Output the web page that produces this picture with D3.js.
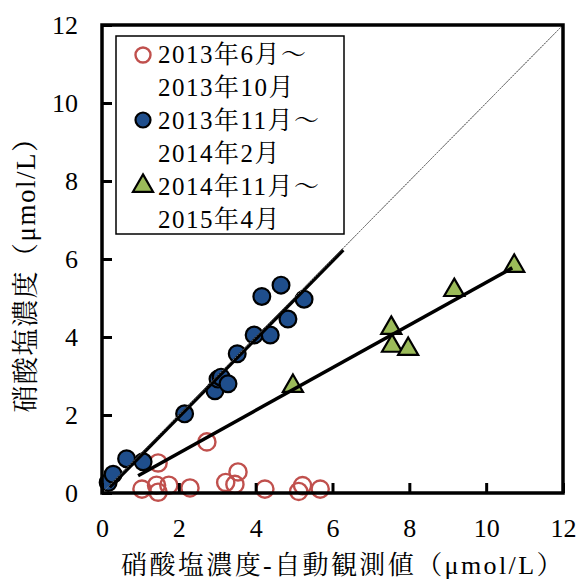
<!DOCTYPE html>
<html>
<head>
<meta charset="utf-8">
<script src="https://cdn.jsdelivr.net/npm/d3@7"></script>
<style>
body { margin: 0; background: #fff; }
</style>
</head>
<body>
<div id="chart"></div>
<script>
var width = 581,
    height = 583;
var margin = {top: 25, right: 18, bottom: 90, left: 102};
var latinFont = "'Liberation Serif'";
var cjkFont = "'Noto Serif CJK JP'";

// 2013年6月～2013年10月 (open red circles)
var redX = [1.04, 1.46, 1.46, 1.42, 1.74, 2.29, 2.73, 3.22, 3.46, 3.54, 4.24, 5.12, 5.22, 5.68];
var redY = [0.10, 0.77, 0.02, 0.20, 0.20, 0.13, 1.31, 0.27, 0.22, 0.54, 0.10, 0.04, 0.19, 0.10];

// 2013年11月～2014年2月 (blue circles)
var blueX = [0.16, 0.29, 0.64, 1.07, 2.15, 2.94, 3.02, 3.10, 3.28, 3.52, 3.96, 4.38, 4.16, 4.66, 4.84, 5.26];
var blueY = [0.27, 0.48, 0.88, 0.80, 2.03, 2.62, 2.92, 2.97, 2.80, 3.57, 4.05, 4.05, 5.04, 5.33, 4.46, 4.97];

// 2014年11月～2015年4月 (green triangles)
var greenX = [4.97, 7.53, 7.55, 7.97, 9.17, 10.73];
var greenY = [2.74, 4.23, 3.77, 3.69, 5.20, 5.82];

// fitted lines: [slope, intercept, xStart, xEnd]
var blueFit = [1.0, -0.05, 0.2, 6.28];
var greenFit = [0.547, -0.07, 0.94, 10.68];

var ticks = [0, 2, 4, 6, 8, 10, 12];
var legendLabels = ["2013年6月～", "2013年10月", "2013年11月～", "2014年2月", "2014年11月～", "2015年4月"];
var xTitle = "硝酸塩濃度-自動観測値（μmol/L）";
var yTitle = "硝酸塩濃度（μmol/L）";

// split text into latin / CJK runs, each with its own font
var cjkRe = /[\u3000-\u9fff\uff00-\uffef]/;
function richText(sel, str) {
    str.match(/[\u3000-\u9fff\uff00-\uffef]+|[^\u3000-\u9fff\uff00-\uffef]+/g).forEach(function (r) {
        sel.append("tspan")
            .style("font-family", cjkRe.test(r) ? cjkFont : latinFont)
            .text(r);
    });
}

var svg = d3.select("#chart")
    .append("svg")
    .attr("width", width)
    .attr("height", height);

var x = d3.scaleLinear().domain([0, 12]).range([margin.left, width - margin.right]);
var y = d3.scaleLinear().domain([0, 12]).range([height - margin.bottom, margin.top]);

// 1:1 line
svg.append("line")
    .attr("x1", x(0)).attr("y1", y(0))
    .attr("x2", x(12)).attr("y2", y(12))
    .style("stroke", "#444")
    .style("stroke-width", 1)
    .style("stroke-dasharray", "2,1");

// red open circles
svg.append("g")
    .selectAll("circle")
    .data(redX)
    .enter()
    .append("circle")
    .attr("cx", function (d) { return x(d); })
    .attr("cy", function (d, i) { return y(redY[i]); })
    .attr("r", 8.6)
    .style("fill", "none")
    .style("stroke", "#C0504D")
    .style("stroke-width", 2.4);

// blue circles
svg.append("g")
    .selectAll("circle")
    .data(blueX)
    .enter()
    .append("circle")
    .attr("cx", function (d) { return x(d); })
    .attr("cy", function (d, i) { return y(blueY[i]); })
    .attr("r", 8.4)
    .style("fill", "#1F4E8C")
    .style("stroke", "#000")
    .style("stroke-width", 2.2);

// green triangles
var tri = d3.symbol().type(d3.symbolTriangle).size(175);
svg.append("g")
    .selectAll("path")
    .data(greenX)
    .enter()
    .append("path")
    .attr("d", tri)
    .attr("transform", function (d, i) { return "translate(" + x(d) + "," + y(greenY[i]) + ")"; })
    .style("fill", "#9BBB59")
    .style("stroke", "#000")
    .style("stroke-width", 2.2);

// fit lines
[blueFit, greenFit].forEach(function (f) {
    svg.append("line")
        .attr("x1", x(f[2])).attr("y1", y(f[0] * f[2] + f[1]))
        .attr("x2", x(f[3])).attr("y2", y(f[0] * f[3] + f[1]))
        .style("stroke", "#000")
        .style("stroke-width", 3.5);
});
// 1:1 line drawn again thinly over blue fit
svg.append("line")
    .attr("x1", x(0)).attr("y1", y(0))
    .attr("x2", x(12)).attr("y2", y(12))
    .style("stroke", "#888")
    .style("stroke-width", 0.8)
    .style("stroke-dasharray", "2,1");

// axes
var xAxis = d3.axisBottom(x).tickValues(ticks).tickSizeInner(-10).tickSizeOuter(0);
var yAxis = d3.axisLeft(y).tickValues(ticks).tickSizeInner(-10).tickSizeOuter(0);

var gx = svg.append("g")
    .attr("transform", "translate(0," + y(0) + ")")
    .call(xAxis);
var gy = svg.append("g")
    .attr("transform", "translate(" + x(0) + ",0)")
    .call(yAxis);

[gx, gy].forEach(function (g) {
    g.attr("font-family", null).attr("font-size", null);
    g.select(".domain").remove();
    g.selectAll(".tick line").style("stroke", "#000").style("stroke-width", 3);
    g.selectAll(".tick text")
        .style("font-family", latinFont)
        .style("font-size", "26px")
        .style("fill", "#000");
});
gx.selectAll(".tick text").attr("y", 44).attr("dy", 0);
gy.selectAll(".tick text").attr("x", -24).attr("dy", "0.34em");

// frame
svg.append("rect")
    .attr("x", x(0)).attr("y", y(12))
    .attr("width", x(12) - x(0))
    .attr("height", y(0) - y(12))
    .style("fill", "none")
    .style("stroke", "#000")
    .style("stroke-width", 3.5);

// axis titles
var xt = svg.append("text")
    .attr("x", 343)
    .attr("y", 574)
    .attr("text-anchor", "middle")
    .style("font-size", "26px")
    .style("letter-spacing", "2.4px");
richText(xt, xTitle);

var yt = svg.append("text")
    .attr("transform", "translate(35,268) rotate(-90)")
    .attr("text-anchor", "middle")
    .style("font-size", "27px")
    .style("letter-spacing", "1.5px");
richText(yt, yTitle);

// legend
var legend = svg.append("g");
legend.append("rect")
    .attr("x", 116).attr("y", 36)
    .attr("width", 228).attr("height", 198)
    .style("fill", "#fff")
    .style("stroke", "#000")
    .style("stroke-width", 1.5);

legend.selectAll("text")
    .data(legendLabels)
    .enter()
    .append("text")
    .attr("x", 158)
    .attr("y", function (d, i) { return 63 + i * 33; })
    .style("font-size", "25px")
    .style("letter-spacing", "1.5px")
    .each(function (d) { richText(d3.select(this), d); });

legend.append("circle")
    .attr("cx", 143).attr("cy", 55).attr("r", 7.5)
    .style("fill", "none").style("stroke", "#C0504D").style("stroke-width", 2.4);
legend.append("circle")
    .attr("cx", 143).attr("cy", 120).attr("r", 7.5)
    .style("fill", "#1F4E8C").style("stroke", "#000").style("stroke-width", 2.2);
legend.append("path")
    .attr("d", tri)
    .attr("transform", "translate(143,186)")
    .style("fill", "#9BBB59").style("stroke", "#000").style("stroke-width", 2.2);
</script>
</body>
</html>
